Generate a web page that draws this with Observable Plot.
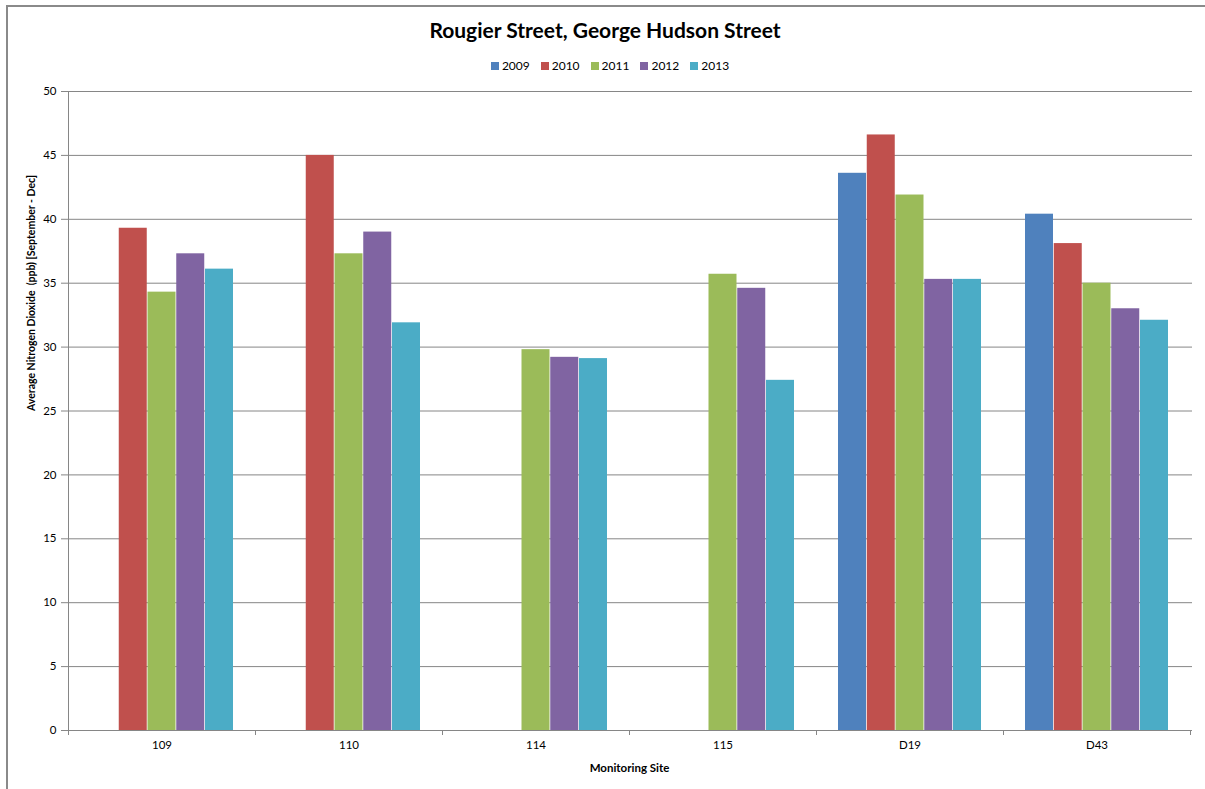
<!DOCTYPE html>
<html><head><meta charset="utf-8">
<script src="https://cdn.jsdelivr.net/npm/d3@7"></script>
<script src="https://cdn.jsdelivr.net/npm/@observablehq/plot@0.6"></script>
<style>
html,body{margin:0;background:#fff;font-family:Lato,"Open Sans",sans-serif;overflow:hidden;}
#wrap{position:relative;width:1205px;height:789px;overflow:hidden;background:#fff;}
#hline{position:absolute;left:6px;top:5px;width:1199px;height:2px;background:#8a8a8a;}
#vline{position:absolute;left:6px;top:5px;width:2px;height:784px;background:#8a8a8a;}
#title{position:absolute;top:17px;left:0;width:1205px;text-align:center;font-weight:bold;font-size:21px;line-height:26px;color:#000;padding-left:5px;box-sizing:border-box;}
#legend{position:absolute;top:58px;left:0;width:1205px;display:flex;justify-content:center;font-size:12px;line-height:16px;color:#000;padding-left:26px;box-sizing:border-box;}
#legend .item{display:flex;align-items:center;margin-right:11px;}
#legend .sw{width:8px;height:8px;margin-right:3px;}
#chart{position:absolute;left:0;top:80px;}
</style></head>
<body><div id="wrap"><div id="hline"></div><div id="vline"></div><div id="title"></div><div id="legend"></div><div id="chart"></div></div>
<script>
const title = "Rougier Street, George Hudson Street";
const sites = ["109","110","114","115","D19","D43"];
const years = ["2009","2010","2011","2012","2013"];
const colors = ["#4F81BD","#C0504D","#9BBB59","#8064A2","#4BACC6"];
const v2009 = [null, null, null, null, 43.6, 40.4];
const v2010 = [39.3, 45.0, null, null, 46.6, 38.1];
const v2011 = [34.3, 37.3, 29.8, 35.7, 41.9, 35.0];
const v2012 = [37.3, 39.0, 29.2, 34.6, 35.3, 33.0];
const v2013 = [36.1, 31.9, 29.1, 27.4, 35.3, 32.1];
const yTicks = [0,5,10,15,20,25,30,35,40,45,50];
const yLabel = "Average Nitrogen Dioxide  (ppb) [September - Dec]";
const xLabel = "Monitoring Site";

const series = [v2009, v2010, v2011, v2012, v2013];
const data = years.flatMap((yr, i) => sites.map((s, j) => ({site: s, year: yr, value: series[i][j]})).filter(d => d.value != null));

document.getElementById("title").textContent = title;
const leg = document.getElementById("legend");
years.forEach((yr, i) => {
  const it = document.createElement("div"); it.className = "item";
  const sw = document.createElement("div"); sw.className = "sw"; sw.style.background = colors[i];
  const tx = document.createElement("span"); tx.textContent = yr;
  it.appendChild(sw); it.appendChild(tx); leg.appendChild(it);
});

const W = 1205, H = 709, mL = 66, mR = 13, mT = 11, mB = 59;
const pI = 0.234, pO = 0.117;
const step = (W - mL - mR) / (sites.length - pI + 2 * pO);
const bw = step * (1 - pI);
const bar = bw / years.length;
const grey = "#868686";

const chart = Plot.plot({
  width: W, height: H, marginLeft: mL, marginRight: mR, marginTop: mT, marginBottom: mB,
  style: {fontFamily: "Lato, 'Open Sans', sans-serif", fontSize: "11px", color: "#000", background: "transparent"},
  x: {domain: sites, paddingInner: pI, paddingOuter: pO, label: null},
  y: {domain: [0, 50], label: null},
  marks: [
    Plot.gridY(yTicks, {stroke: grey, strokeOpacity: 1, strokeWidth: 1}),
    ...years.map((yr, i) => Plot.barY(data.filter(d => d.year === yr), {
      x: "site", y: "value", fill: colors[i], insetLeft: i * bar, insetRight: (years.length - 1 - i) * bar
    })),
    Plot.axisY(yTicks, {tickSize: 5, tickPadding: 5, stroke: grey, fill: "#000", fontSize: 11.5, label: null}),
    Plot.axisX({tickSize: 0, tickPadding: 10, fill: "#000", fontSize: 11.5, label: null}),
    Plot.text([yLabel], {text: d => d, frameAnchor: "left", rotate: -90, dx: -35, fontWeight: "bold", fontSize: 10.5, fill: "#000"}),
    Plot.text([xLabel], {text: d => d, frameAnchor: "bottom", dy: 41, fontWeight: "bold", fontSize: 11.5, fill: "#000"})
  ]
});
document.getElementById("chart").appendChild(chart);

// axis lines and category boundary ticks, positioned from Plot's own scales
const sx = chart.scale("x"), sy = chart.scale("y");
const y0 = sy.apply(0), y50 = sy.apply(50);
const svg = d3.select(chart);
const g = svg.append("g").attr("stroke", grey).attr("stroke-width", 1);
const half = (sx.step - sx.bandwidth) / 2;
const bounds = sites.map(s => sx.apply(s) - half);
bounds.push(sx.apply(sites[sites.length - 1]) + sx.bandwidth + half);
g.append("line").attr("x1", bounds[0]).attr("x2", bounds[bounds.length - 1]).attr("y1", y0 + 0.5).attr("y2", y0 + 0.5);
g.append("line").attr("x1", bounds[0] + 0.5).attr("x2", bounds[0] + 0.5).attr("y1", y50).attr("y2", y0);
bounds.forEach(b => g.append("line").attr("x1", Math.round(b) + 0.5).attr("x2", Math.round(b) + 0.5).attr("y1", y0).attr("y2", y0 + 5));
</script></body></html>
